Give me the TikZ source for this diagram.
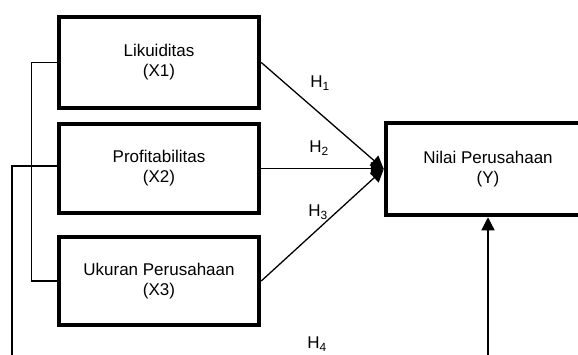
\documentclass[tikz,border=0pt]{standalone}
\usepackage{fontspec}
\setmainfont{Liberation Sans}
\usetikzlibrary{arrows.meta}
\begin{document}
\begin{tikzpicture}[x=1pt,y=-1pt,
  box/.style={draw,line width=4.5pt,minimum width=200pt,align=center,inner sep=0pt,font=\fontsize{17}{20}\selectfont},
  conn/.style={line width=1.3pt},
  arr/.style={conn,-{Triangle[length=13pt,width=13pt]}},
  hlab/.style={font=\fontsize{17}{20}\selectfont,inner sep=0pt}]
\useasboundingbox (0,0) rectangle (578,354);
\node[box,minimum height=91pt] (x1) at (159,62.5) {Likuiditas\\(X1)};
\node[box,minimum height=89pt] (x2) at (159,168.5) {Profitabilitas\\(X2)};
\node[box,minimum height=88pt] (x3) at (159,281) {Ukuran Perusahaan\\(X3)};
\node[box,minimum width=204pt,minimum height=92pt] (y) at (488,169) {Nilai Perusahaan\\(Y)};
\coordinate (c1) at (12,365);
\draw[arr] (x1.east) -- (y.west);
\draw[arr] (x2.east -| x2.east) -- (x2.east -| y.west);
\draw[arr] (x3.east) -- (y.west);
\draw[conn] (x1.west) -- ++(-25,0) |- (x3.west);
\draw[arr] ([yshift=2.5pt]x2.west) -| (c1) -| (y.south);
\node[hlab] (h1) at (320,83) {H\textsubscript{1}};
\node[hlab] (h2) at (319,148) {H\textsubscript{2}};
\node[hlab] (h3) at (318,212) {H\textsubscript{3}};
\node[hlab] (h4) at (317,344) {H\textsubscript{4}};
\end{tikzpicture}
\end{document}
